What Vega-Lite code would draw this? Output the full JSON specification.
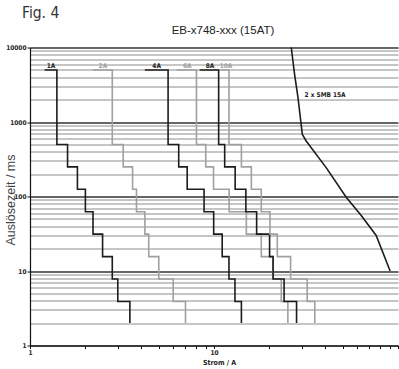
{
  "$schema": "https://vega.github.io/schema/vega-lite/v6.json",
  "padding": {"left": 4, "top": 5.5, "right": 0, "bottom": 0},
  "background": "white",
  "title": {"text": "Fig. 4", "anchor": "start", "font": "DejaVu Sans Condensed, Roboto Condensed, Roboto, sans-serif", "fontSize": 15.5, "fontWeight": "normal", "color": "#333", "offset": 3, "dx": 18},
  "datasets": {
    "steps": [
      {"curve": "1A", "I": 1.2, "t": 5000}, {"curve": "1A", "I": 1.4, "t": 500}, {"curve": "1A", "I": 1.6, "t": 250}, {"curve": "1A", "I": 1.81, "t": 125}, {"curve": "1A", "I": 2.0, "t": 62.5}, {"curve": "1A", "I": 2.2, "t": 31.25}, {"curve": "1A", "I": 2.48, "t": 15.6}, {"curve": "1A", "I": 2.8, "t": 7.8}, {"curve": "1A", "I": 3.0, "t": 3.9}, {"curve": "1A", "I": 3.49, "t": 2},
      {"curve": "2A", "I": 2.19, "t": 5000}, {"curve": "2A", "I": 2.8, "t": 500}, {"curve": "2A", "I": 3.21, "t": 250}, {"curve": "2A", "I": 3.61, "t": 125}, {"curve": "2A", "I": 3.79, "t": 62.5}, {"curve": "2A", "I": 4.21, "t": 31.25}, {"curve": "2A", "I": 4.42, "t": 15.6}, {"curve": "2A", "I": 5.01, "t": 7.8}, {"curve": "2A", "I": 6.0, "t": 3.9}, {"curve": "2A", "I": 7.0, "t": 2},
      {"curve": "4A", "I": 4.21, "t": 5000}, {"curve": "4A", "I": 5.63, "t": 500}, {"curve": "4A", "I": 6.43, "t": 250}, {"curve": "4A", "I": 7.15, "t": 125}, {"curve": "4A", "I": 8.83, "t": 62.5}, {"curve": "4A", "I": 9.96, "t": 31.25}, {"curve": "4A", "I": 11.08, "t": 15.6}, {"curve": "4A", "I": 12.06, "t": 7.8}, {"curve": "4A", "I": 13.0, "t": 3.9}, {"curve": "4A", "I": 14.09, "t": 2},
      {"curve": "6A", "I": 6.25, "t": 5000}, {"curve": "6A", "I": 8.03, "t": 500}, {"curve": "6A", "I": 9.02, "t": 250}, {"curve": "6A", "I": 9.94, "t": 125}, {"curve": "6A", "I": 12.09, "t": 62.5}, {"curve": "6A", "I": 14.99, "t": 31.25}, {"curve": "6A", "I": 18.07, "t": 15.6}, {"curve": "6A", "I": 20.9, "t": 7.8}, {"curve": "6A", "I": 23.2, "t": 3.9}, {"curve": "6A", "I": 25.2, "t": 2},
      {"curve": "8A", "I": 8.36, "t": 5000}, {"curve": "8A", "I": 10.6, "t": 500}, {"curve": "8A", "I": 11.43, "t": 250}, {"curve": "8A", "I": 13.03, "t": 125}, {"curve": "8A", "I": 14.9, "t": 62.5}, {"curve": "8A", "I": 17.05, "t": 31.25}, {"curve": "8A", "I": 20.05, "t": 15.6}, {"curve": "8A", "I": 20.95, "t": 7.8}, {"curve": "8A", "I": 24.04, "t": 3.9}, {"curve": "8A", "I": 28.1, "t": 2},
      {"curve": "10A", "I": 10.87, "t": 5000}, {"curve": "10A", "I": 12.06, "t": 500}, {"curve": "10A", "I": 14.09, "t": 250}, {"curve": "10A", "I": 15.96, "t": 125}, {"curve": "10A", "I": 18.07, "t": 62.5}, {"curve": "10A", "I": 20.15, "t": 31.25}, {"curve": "10A", "I": 22.08, "t": 15.6}, {"curve": "10A", "I": 26.08, "t": 7.8}, {"curve": "10A", "I": 32.1, "t": 3.9}, {"curve": "10A", "I": 35.3, "t": 2}
    ],
    "labels": [
      {"curve": "1A", "I": 1.3, "t": 5000}, {"curve": "2A", "I": 2.49, "t": 5000}, {"curve": "4A", "I": 4.88, "t": 5000},
      {"curve": "6A", "I": 7.16, "t": 5000}, {"curve": "8A", "I": 9.51, "t": 5000}, {"curve": "10A", "I": 11.62, "t": 5000}
    ],
    "smb": [
      {"I": 26.3, "t": 10000}, {"I": 27.4, "t": 4395}, {"I": 28.6, "t": 2133}, {"I": 30.2, "t": 684}, {"I": 31.7, "t": 556},
      {"I": 40.7, "t": 244}, {"I": 52.3, "t": 98}, {"I": 63.1, "t": 55.6}, {"I": 76.1, "t": 30}, {"I": 90.6, "t": 10}
    ],
    "smbLabel": [{"label": "2 x SMB 15A", "I": 31.05, "t": 2296}]
  },
  "vconcat": [
    {
      "width": 368,
      "height": 298,
      "title": {"text": "EB-x748-xxx (15AT)", "font": "Liberation Sans", "fontSize": 11.5, "fontWeight": "normal", "color": "#222", "anchor": "middle", "dx": 9, "offset": 8},
      "layer": [
        {
          "data": {"name": "steps"},
          "mark": {"type": "line", "interpolate": "step-after", "strokeWidth": 1.6},
          "encoding": {
            "x": {
              "field": "I", "type": "quantitative",
              "scale": {"type": "log", "domain": [1, 100], "nice": false},
              "axis": {
                "title": "Strom / A",
                "values": [1, 2, 3, 4, 5, 6, 7, 8, 9, 10, 20, 30, 40, 50, 60, 70, 80, 90, 100],
                "format": "d",
                "labelExpr": "datum.value == 1 || datum.value == 10 ? datum.label : ''",
                "labelOverlap": false,
                "labelFlush": false,
                "grid": false,
                "domainColor": "#111", "domainWidth": 1.2,
                "tickColor": "#111", "tickSize": 3, "tickWidth": 1,
                "labelFont": "DejaVu Sans Condensed, Roboto Condensed, Roboto, sans-serif", "labelFontWeight": "bold", "labelFontSize": 6.5, "labelColor": "#222", "labelPadding": 1,
                "titleFont": "DejaVu Sans Condensed, Roboto Condensed, Roboto, sans-serif", "titleFontWeight": "bold", "titleFontSize": 7, "titleColor": "#222", "titlePadding": 2, "titleX": 189
              }
            },
            "y": {
              "field": "t", "type": "quantitative",
              "scale": {"type": "log", "domain": [1, 10000], "nice": false},
              "axis": {
                "title": "Auslösezeit / ms",
                "values": [1, 2, 3, 4, 5, 6, 7, 8, 9, 10, 20, 30, 40, 50, 60, 70, 80, 90, 100, 200, 300, 400, 500, 600, 700, 800, 900, 1000, 2000, 3000, 4000, 5000, 6000, 7000, 8000, 9000, 10000],
                "format": "d",
                "labelExpr": "indexof([1, 10, 100, 1000, 10000], datum.value) >= 0 ? datum.label : ''",
                "labelOverlap": false,
                "labelFlush": false,
                "grid": true,
                "gridColor": {"condition": {"test": "indexof([1, 10, 100, 1000, 10000], datum.value) >= 0", "value": "#333"}, "value": "#8c8c8c"},
                "gridWidth": {"condition": {"test": "indexof([1, 10, 100, 1000, 10000], datum.value) >= 0", "value": 1.3}, "value": 1},
                "tickSize": {"condition": {"test": "indexof([1, 10, 100, 1000, 10000], datum.value) >= 0", "value": 3}, "value": 0},
                "tickColor": "#111",
                "domainColor": "#111", "domainWidth": 1.2,
                "labelFont": "DejaVu Sans Condensed, Roboto Condensed, Roboto, sans-serif", "labelFontWeight": "bold", "labelFontSize": 6.5, "labelColor": "#222", "labelPadding": 1,
                "titleFont": "Liberation Sans", "titleFontWeight": "normal", "titleFontSize": 12.5, "titleColor": "#444",
                "titleX": -20, "titleY": 152, "titleAlign": "center", "titleBaseline": "middle", "titleAngle": -90
              }
            },
            "color": {
              "field": "curve", "type": "nominal",
              "scale": {"domain": ["1A", "2A", "4A", "6A", "8A", "10A"], "range": ["#1c1c1c", "#a0a0a0", "#1c1c1c", "#a0a0a0", "#1c1c1c", "#a0a0a0"]},
              "legend": null
            }
          }
        },
        {
          "data": {"name": "labels"},
          "mark": {"type": "text", "font": "DejaVu Sans Condensed, Roboto Condensed, Roboto, sans-serif", "fontWeight": "bold", "fontSize": 6.5, "baseline": "alphabetic", "align": "center", "dy": -1.5},
          "encoding": {
            "x": {"field": "I", "type": "quantitative"},
            "y": {"field": "t", "type": "quantitative"},
            "text": {"field": "curve"},
            "color": {"field": "curve", "type": "nominal", "legend": null}
          }
        },
        {
          "data": {"name": "smb"},
          "mark": {"type": "line", "color": "#1c1c1c", "strokeWidth": 1.6},
          "encoding": {
            "x": {"field": "I", "type": "quantitative"},
            "y": {"field": "t", "type": "quantitative"}
          }
        },
        {
          "data": {"name": "smbLabel"},
          "mark": {"type": "text", "font": "DejaVu Sans Condensed, Roboto Condensed, Roboto, sans-serif", "fontWeight": "bold", "fontSize": 6.5, "baseline": "middle", "align": "left", "color": "#1c1c1c"},
          "encoding": {
            "x": {"field": "I", "type": "quantitative"},
            "y": {"field": "t", "type": "quantitative"},
            "text": {"field": "label"}
          }
        }
      ]
    }
  ],
  "config": {"view": {"stroke": null}, "concat": {"spacing": 0}}
}
